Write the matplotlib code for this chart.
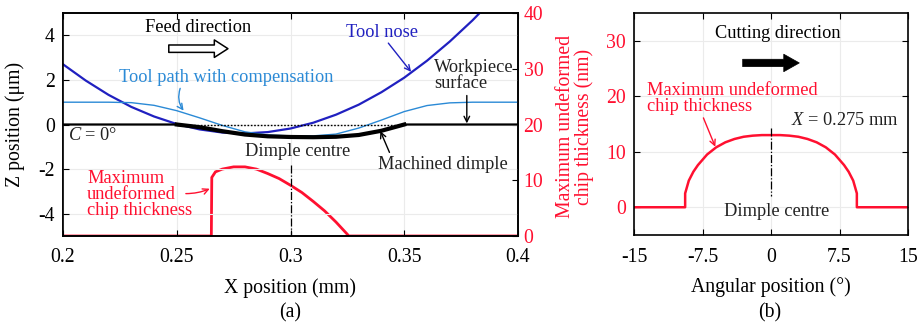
import matplotlib
matplotlib.use("Agg")
import matplotlib.pyplot as plt

plt.rcParams['font.family'] = ['Liberation Serif', 'DejaVu Serif']
plt.rcParams['mathtext.fontset'] = 'custom'
plt.rcParams['mathtext.rm'] = 'Liberation Serif'
plt.rcParams['mathtext.it'] = 'Liberation Serif:italic'
plt.rcParams['axes.unicode_minus'] = False

# ---------------- data: panel (a) ----------------
nose_x = [0.20, 0.21, 0.22, 0.23, 0.24, 0.25, 0.26, 0.27, 0.28, 0.29, 0.30,
          0.31, 0.32, 0.33, 0.34, 0.35, 0.36, 0.37, 0.38, 0.39]
nose_z = [2.70, 1.97, 1.33, 0.79, 0.36, 0.02, -0.22, -0.36, -0.40, -0.34, -0.18,
          0.08, 0.44, 0.89, 1.45, 2.10, 2.86, 3.72, 4.67, 5.72]

comp_x = [0.20, 0.21, 0.22, 0.23, 0.24, 0.25, 0.26, 0.27, 0.28, 0.29, 0.30,
          0.31, 0.32, 0.33, 0.34, 0.35, 0.36, 0.37, 0.38, 0.39, 0.40]
comp_z = [1.00, 1.00, 1.00, 0.98, 0.86, 0.62, 0.30, -0.04, -0.33, -0.47, -0.51,
          -0.51, -0.43, -0.16, 0.20, 0.58, 0.85, 0.97, 1.00, 1.00, 1.00]

surf_x = [0.20, 0.25, 0.26, 0.27, 0.28, 0.29, 0.30, 0.31, 0.32, 0.33, 0.34, 0.35, 0.40]
surf_z = [0.00, 0.00, -0.12, -0.30, -0.45, -0.53, -0.56, -0.57, -0.55, -0.47, -0.28, 0.00, 0.00]

dimple_x = surf_x[1:-1]
dimple_z = surf_z[1:-1]

orig_x = [0.25, 0.35]
orig_z = [0.0, 0.0]

chip_x = [0.200, 0.2652, 0.2654, 0.267, 0.270, 0.275, 0.280, 0.285, 0.290, 0.295,
          0.300, 0.305, 0.310, 0.315, 0.320, 0.325, 0.3256, 0.400]
chip_t = [0.0, 0.0, 10.5, 11.5, 12.0, 12.4, 12.4, 12.0, 11.2, 10.3,
          9.1, 7.8, 6.2, 4.5, 2.5, 0.3, 0.0, 0.0]

a_xticks = [0.2, 0.25, 0.3, 0.35, 0.4]
a_xticklabels = ['0.2', '0.25', '0.3', '0.35', '0.4']
a_yticks = [-4, -2, 0, 2, 4]
a_y2ticks = [0, 10, 20, 30, 40]

# ---------------- data: panel (b) ----------------
ang_x = [-15, -9.4, -9.4, -9.0, -8.5, -8.0, -7.0, -6.0, -5.0, -4.0, -3.0, -2.0, -1.0, 0.0,
         1.0, 2.0, 3.0, 4.0, 5.0, 6.0, 7.0, 8.0, 8.5, 9.0, 9.4, 9.4, 15]
ang_t = [0, 0, 2.5, 4.8, 6.4, 7.6, 9.5, 10.8, 11.7, 12.3, 12.7, 12.9, 13.0, 13.0,
         13.0, 12.9, 12.7, 12.3, 11.7, 10.8, 9.5, 7.6, 6.4, 4.8, 2.5, 0, 0]

b_xticks = [-15, -7.5, 0, 7.5, 15]
b_xticklabels = ['-15', '-7.5', '0', '7.5', '15']
b_yticks = [0, 10, 20, 30]

RED = '#ff1030'
BLUE = '#2020c0'
LBLUE = '#2b8ad6'
FS_T = 14.2
FS_A = 13.2

fig = plt.figure(figsize=(9.19, 3.29), dpi=100)
ax = fig.add_axes([63/919, 1-236/329, 455/919, 223/329])
ax2 = ax.twinx()
axb = fig.add_axes([634/919, 1-235/329, 274/919, 222/329])

# ---- panel (a) ----
ax.set_zorder(ax2.get_zorder() + 1)
ax.patch.set_visible(False)
ax2.plot(chip_x, chip_t, color=RED, lw=2.0, solid_joinstyle='miter')
ax2.set_ylim(0, 40)
ax2.set_yticks(a_y2ticks)
ax2.tick_params(axis='y', direction='in', colors='black', labelcolor=RED,
                labelsize=FS_T, length=4, pad=4)

ax.plot(nose_x, nose_z, color=BLUE, lw=1.6)
ax.plot(comp_x, comp_z, color=LBLUE, lw=1.0)
ax.plot(surf_x, surf_z, color='black', lw=1.6)
ax.plot(dimple_x, dimple_z, color='black', lw=3.0)
ax.plot(orig_x, orig_z, color='black', lw=1.0, ls=(0, (1.2, 1.2)))
ax.plot([0.3, 0.3], [-1.8, -5], color='black', lw=0.9, ls='-.')

ax.set_xlim(0.2, 0.4)
ax.set_ylim(-5, 5)
ax.set_xticks(a_xticks)
ax.set_xticklabels(a_xticklabels)
ax.set_yticks(a_yticks)
ax.tick_params(direction='in', labelsize=FS_T, top=True, length=4, pad=6)
ax.tick_params(axis='x', pad=9)
ax.grid(True, color='#ebebeb', lw=0.8)
ax.set_axisbelow(True)
ax.set_xlabel('X position (mm)', fontsize=FS_T)
ax.xaxis.set_label_coords(0.5, -0.19)
ax.set_ylabel('Z position (μm)', fontsize=FS_T)
ax.yaxis.set_label_coords(-0.083, 0.5)
ax2.set_ylabel('Maximum undeformed\nchip thickness (nm)', fontsize=FS_T, color=RED,
               linespacing=0.95)
ax2.yaxis.set_label_coords(1.084, 0.49)
for a in (ax, ax2):
    for s in a.spines.values():
        s.set_linewidth(1.2)

ax.text(0.2593, 4.36, 'Feed direction', fontsize=FS_A, ha='center', va='center')
ax.annotate('', xy=(0.2725, 3.4), xytext=(0.2465, 3.4),
            arrowprops=dict(arrowstyle='simple,head_length=0.7,head_width=0.9,tail_width=0.38',
                            fc='white', ec='black', lw=1.1, mutation_scale=14,
                            shrinkA=0, shrinkB=0))
ax.text(0.2717, 2.1, 'Tool path with compensation', fontsize=FS_A, color=LBLUE,
        ha='center', va='center')
ax.annotate('', xy=(0.2530, 0.62), xytext=(0.2515, 1.62),
            arrowprops=dict(arrowstyle='->', color=LBLUE, lw=1.0,
                            connectionstyle='arc3,rad=0.25', shrinkA=0, shrinkB=0))
ax.text(0.3402, 4.14, 'Tool nose', fontsize=FS_A, color=BLUE, ha='center', va='center')
ax.annotate('', xy=(0.3530, 2.36), xytext=(0.3430, 3.65),
            arrowprops=dict(arrowstyle='->', color=BLUE, lw=1.0, shrinkA=0, shrinkB=0))
ax.text(0.3630, 2.2, 'Workpiece\nsurface', fontsize=FS_A, color='#222222',
        ha='left', va='center', linespacing=0.9)
ax.annotate('', xy=(0.3775, 0.05), xytext=(0.3775, 1.3),
            arrowprops=dict(arrowstyle='->', color='black', lw=1.0, shrinkA=0, shrinkB=0))
ax.text(0.2022, -0.5, '$C$ = 0°', fontsize=FS_A, color='#222222', ha='left', va='center')
ax.text(0.3033, -1.22, 'Dimple centre', fontsize=FS_A, color='#222222',
        ha='center', va='center')
ax.text(0.367, -1.8, 'Machined dimple', fontsize=FS_A, color='#222222',
        ha='center', va='center')
ax.annotate('', xy=(0.3395, -0.3), xytext=(0.3435, -1.25),
            arrowprops=dict(arrowstyle='->', color='black', lw=1.0, shrinkA=0, shrinkB=0))
ax.text(0.2106, -3.14, 'Maximum\nundeformed\nchip thickness', fontsize=FS_A, color=RED,
        ha='left', va='center', linespacing=0.95)
ax.annotate('', xy=(0.2645, -2.88), xytext=(0.2540, -3.1),
            arrowprops=dict(arrowstyle='->', color=RED, lw=1.0,
                            connectionstyle='arc3,rad=0.1', shrinkA=0, shrinkB=0))

# ---- panel (b) ----
axb.plot(ang_x, ang_t, color=RED, lw=1.8)
axb.plot([0, 0], [14.2, 2.0], color='black', lw=0.9, ls='-.')
axb.set_xlim(-15, 15)
axb.set_ylim(-5, 35)
axb.set_xticks(b_xticks)
axb.set_xticklabels(b_xticklabels)
axb.set_yticks(b_yticks)
axb.tick_params(direction='in', labelsize=FS_T, top=True, right=True, length=4, pad=6)
axb.tick_params(axis='x', pad=9)
axb.tick_params(axis='y', labelcolor=RED)
axb.grid(True, color='#ebebeb', lw=0.8)
axb.set_axisbelow(True)
for s in axb.spines.values():
    s.set_linewidth(1.2)
axb.set_xlabel('Angular position (°)', fontsize=FS_T)
axb.xaxis.set_label_coords(0.5, -0.19)

axb.text(0.77, 31.25, 'Cutting direction', fontsize=FS_A, ha='center', va='center')
axb.annotate('', xy=(3.1, 26), xytext=(-3.1, 26),
             arrowprops=dict(arrowstyle='simple,head_length=0.8,head_width=0.9,tail_width=0.38',
                             fc='black', ec='black', lw=0.5, mutation_scale=14,
                             shrinkA=0, shrinkB=0))
axb.text(-13.6, 19.6, 'Maximum undeformed\nchip thickness', fontsize=FS_A, color=RED,
         ha='left', va='center', linespacing=0.95)
axb.annotate('', xy=(-6.1, 10.9), xytext=(-7.4, 16.1),
             arrowprops=dict(arrowstyle='->', color=RED, lw=1.0, shrinkA=0, shrinkB=0))
axb.text(8.1, 15.7, '$X$ = 0.275 mm', fontsize=FS_A, color='#222222',
         ha='center', va='center')
axb.text(0.66, -0.7, 'Dimple centre', fontsize=FS_A, color='#222222',
         ha='center', va='center')

fig.text(290/919, 1-313/329, '(a)', fontsize=FS_T, ha='center', va='center')
fig.text(770/919, 1-313/329, '(b)', fontsize=FS_T, ha='center', va='center')

fig.savefig('out.png', dpi=100)
